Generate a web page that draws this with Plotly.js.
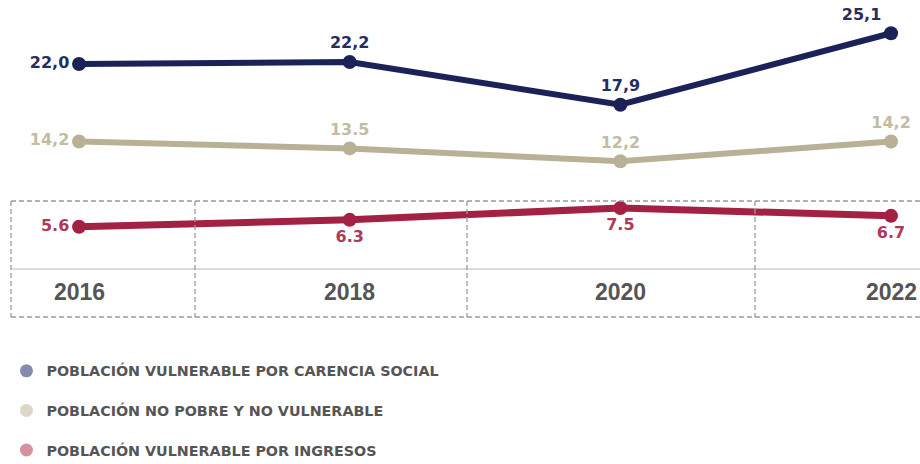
<!DOCTYPE html>
<html>
<head>
<meta charset="utf-8">
<script src="https://cdn.plot.ly/plotly-3.0.1.min.js"></script>
<style>html,body{margin:0;padding:0;background:#fff;}#chart{width:920px;height:464px;}</style>
</head>
<body>
<div id="chart"></div>
<script>
// Data
const years = [2016, 2018, 2020, 2022];
const yearLabels = ["2016", "2018", "2020", "2022"];
const carenciaSocial = [22.0, 22.2, 17.9, 25.1];
const noPobre = [14.2, 13.5, 12.2, 14.2];
const ingresos = [5.6, 6.3, 7.5, 6.7];
const carenciaText = ["22,0", "22,2", "17,9", "25,1"];
const noPobreText = ["14,2", "13.5", "12,2", "14,2"];
const ingresosText = ["5.6", "6.3", "7.5", "6.7"];
const seriesNames = [
  "POBLACIÓN VULNERABLE POR CARENCIA SOCIAL",
  "POBLACIÓN NO POBRE Y NO VULNERABLE",
  "POBLACIÓN VULNERABLE POR INGRESOS"
];

const NAVY = "#1b2257", BEIGE = "#b9b196", RED = "#a32143";
const labelFont = (c) => ({family: "DejaVu Sans", size: 16, weight: 700, color: c});

function lineTrace(y, text, color, textColor, pos, w) {
  return {
    x: years, y: y, text: text, mode: "lines+markers+text",
    textposition: pos, textfont: labelFont(textColor),
    line: {color: color, width: w},
    marker: {color: color, size: 14},
    showlegend: false, cliponaxis: false, hoverinfo: "skip"
  };
}
function legendTrace(name, color, group) {
  return {
    x: [null], y: [null], name: name, mode: "markers", legendgroup: group,
    marker: {color: color, size: 13}, showlegend: true, hoverinfo: "skip"
  };
}

const traces = [
  lineTrace(noPobre, noPobreText, BEIGE, "#c3bca5", ["middle left","top center","top center","top center"], 6),
  lineTrace(ingresos, ingresosText, RED, "#b0395a", ["middle left","bottom center","bottom center","bottom center"], 7),
  lineTrace(carenciaSocial, carenciaText, NAVY, "#262d62", ["middle left","top center","top center","top left"], 6),
  legendTrace(seriesNames[0], "#848bab", "a"),
  legendTrace(seriesNames[1], "#dcd8c9", "b"),
  legendTrace(seriesNames[2], "#d6909f", "c")
];

const dash = {color: "#9a9a9a", width: 1.3, dash: "5px,3px"};
const P = (px) => 1 - px / 464;
const X = (px) => px / 920;
const shapes = [
  {type: "line", xref: "paper", yref: "paper", x0: X(11), x1: 1.01, y0: P(201), y1: P(201), line: dash},
  {type: "line", xref: "paper", yref: "paper", x0: X(11), x1: 1.01, y0: P(317), y1: P(317), line: dash},
  {type: "line", xref: "paper", yref: "paper", x0: X(11), x1: 1.01, y0: P(269), y1: P(269), line: {color: "#cfcfcf", width: 1.5}},
  {type: "line", xref: "paper", yref: "paper", x0: X(11), x1: X(11), y0: P(201), y1: P(317), line: dash},
  {type: "line", xref: "paper", yref: "paper", x0: X(195), x1: X(195), y0: P(201), y1: P(317), line: dash},
  {type: "line", xref: "paper", yref: "paper", x0: X(467), x1: X(467), y0: P(201), y1: P(317), line: dash},
  {type: "line", xref: "paper", yref: "paper", x0: X(755), x1: X(755), y0: P(201), y1: P(317), line: dash}
];

const annotations = years.map((yr, i) => ({
  x: yr, y: P(292), xref: "x", yref: "paper", text: yearLabels[i], showarrow: false,
  font: {family: "Liberation Sans", size: 23, weight: 700, color: "#555555"}
}));

const layout = {
  width: 920, height: 464,
  margin: {l: 0, r: 0, t: 0, b: 0, autoexpand: false},
  paper_bgcolor: "#ffffff", plot_bgcolor: "#ffffff",
  xaxis: {range: [2015.416, 2022.214], visible: false, fixedrange: true},
  yaxis: {range: [-18.3, 28.45], visible: false, fixedrange: true},
  shapes: shapes, annotations: annotations,
  showlegend: true,
  legend: {
    x: 0.007, xanchor: "left", y: P(355), yanchor: "top",
    font: {family: "DejaVu Sans", size: 14.3, weight: 700, color: "#555555"},
    tracegroupgap: 18, bgcolor: "rgba(0,0,0,0)", itemclick: false
  }
};

Plotly.newPlot("chart", traces, layout, {displayModeBar: false, staticPlot: true});
</script>
</body>
</html>
